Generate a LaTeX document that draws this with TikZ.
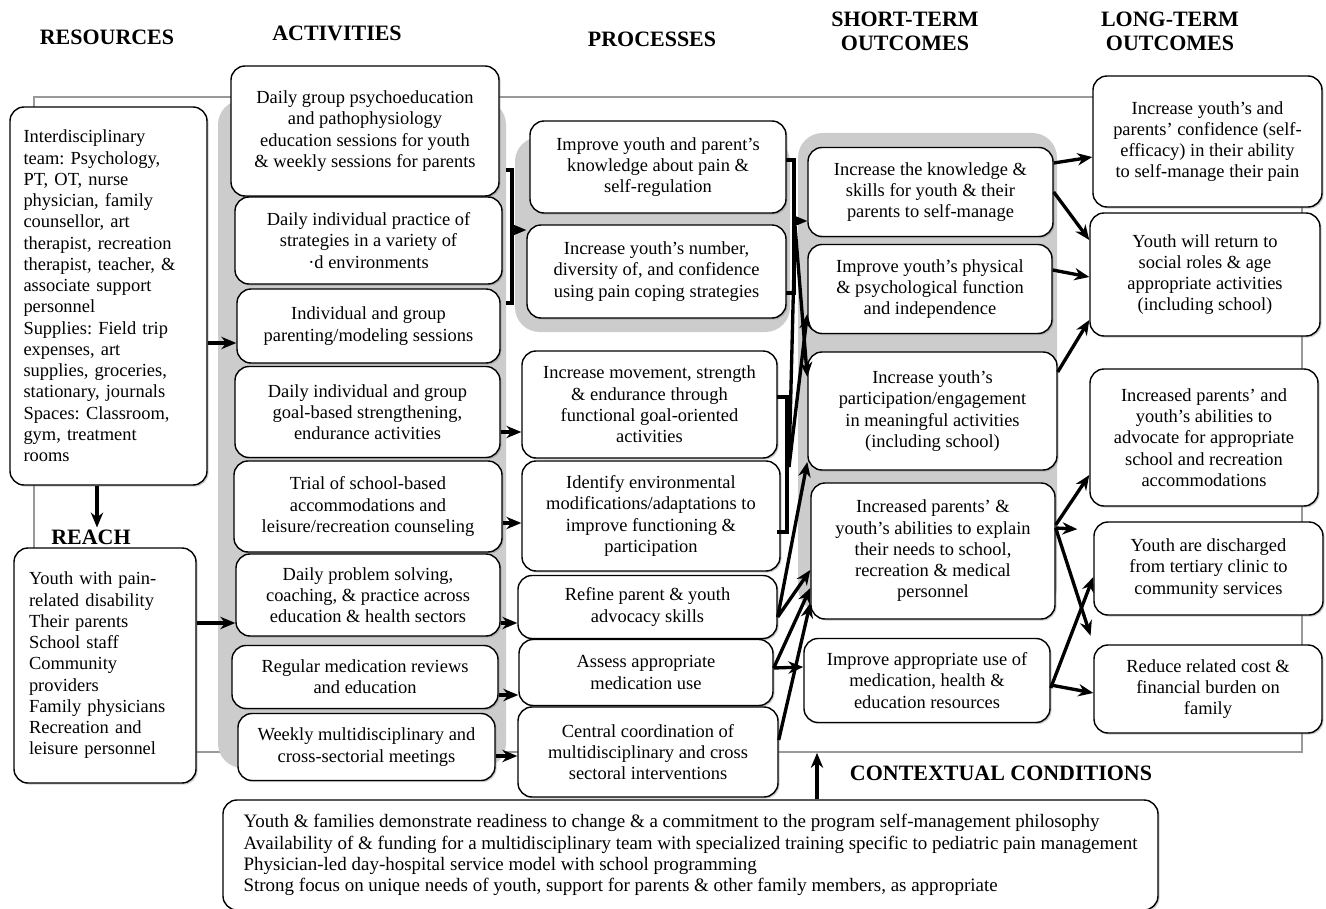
\documentclass[tikz,border=0pt]{standalone}
\usepackage{fontspec}
\setmainfont{Liberation Serif}
\usetikzlibrary{arrows.meta,shadows}
\frenchspacing

\tikzset{
  box/.style={draw, line width=0.8pt, rounded corners=8pt, fill=white, align=center,
    inner sep=1pt, font=\fontsize{10.5}{12.1}\selectfont,
    drop shadow={shadow xshift=0.9pt, shadow yshift=-0.9pt, opacity=0.4}},
  sz/.style 2 args={minimum width=#1*0.02cm, minimum height=#2*0.02cm},
  head/.style={font=\fontsize{12.5}{13.6}\selectfont\bfseries, align=center, inner sep=1pt},
  panel/.style={fill=gray!40, rounded corners=14pt},
  arr/.style={line width=1.9pt, -{Stealth[length=8.5pt,width=7pt]}},
  brk/.style={line width=1.9pt},
}

\begin{document}
\begin{tikzpicture}[x=0.02cm, y=-0.02cm]
  \useasboundingbox (0,0) rectangle (1326,909);

  % headings
  \node[head] (hres) at (107,37) {RESOURCES};
  \node[head] (hact) at (337,33) {ACTIVITIES};
  \node[head] (hproc) at (652,39) {PROCESSES};
  \node[head] (hst) at (905,31) {SHORT-TERM\\OUTCOMES};
  \node[head] (hlt) at (1170,31) {LONG-TERM\\OUTCOMES};
  \node[head] (hreach) at (91,537) {REACH};
  \node[head] (hctx) at (1001,773) {CONTEXTUAL CONDITIONS};

  % frame and grey panels
  \node[draw=black!40, line width=1pt, sz={1268}{655}] (frm) at (668,424.5) {};
  \fill[panel] (218,100) rectangle (506,768);
  \fill[panel] (515,137) rectangle (790,332);
  \fill[panel] (798,133) rectangle (1057,612);

  % resources and reach
  \node[box, sz={197}{378}, text width=3.4cm, align=left] (res) at (108.5,296)
    {Interdisciplinary\\team: Psychology,\\PT, OT, nurse\\physician, family\\counsellor, art\\therapist, recreation\\therapist, teacher, \&\\associate support\\personnel\\Supplies: Field trip\\expenses, art\\supplies, groceries,\\stationary, journals\\Spaces: Classroom,\\gym, treatment\\rooms};
  \node[box, sz={182}{235}, text width=3.04cm, align=left] (reach) at (105,665.5)
    {Youth with pain-\\related disability\\Their parents\\School staff\\Community\\providers\\Family physicians\\Recreation and\\leisure personnel};

  % activities
  \node[box, sz={268}{130}] (act1) at (365,131) {Daily group psychoeducation\\and pathophysiology\\education sessions for youth\\\& weekly sessions for parents};
  \node[box, sz={267}{87}] (act2) at (368.5,240.5) {Daily individual practice of\\strategies in a variety of\\·d environments};
  \node[box, sz={263}{74}] (act3) at (368.5,326) {Individual and group\\parenting/modeling sessions};
  \node[box, sz={265}{91}] (act4) at (367.5,412) {Daily individual and group\\goal-based strengthening,\\endurance activities};
  \node[box, sz={268}{91}] (act5) at (368,506.5) {Trial of school-based\\accommodations and\\leisure/recreation counseling};
  \node[box, sz={264}{82}] (act6) at (368,595) {Daily problem solving,\\coaching, \& practice across\\education \& health sectors};
  \node[box, sz={266}{63}] (act7) at (365,677) {Regular medication reviews\\and education};
  \node[box, sz={257}{67}] (act8) at (366.5,747) {Weekly multidisciplinary and\\cross-sectorial meetings};

  % processes
  \node[box, sz={256}{92}] (proc1) at (658,167) {Improve youth and parent’s\\knowledge about pain \&\\self-regulation};
  \node[box, sz={259}{93}] (proc2) at (656.5,271.5) {Increase youth’s number,\\diversity of, and confidence\\using pain coping strategies};
  \node[box, sz={255}{107}] (proc3) at (649.5,404.5) {Increase movement, strength\\\& endurance through\\functional goal-oriented\\activities};
  \node[box, sz={258}{110}] (proc4) at (651,516) {Identify environmental\\modifications/adaptations to\\improve functioning \&\\participation};
  \node[box, sz={259}{63}] (proc5) at (647.5,607) {Refine parent \& youth\\advocacy skills};
  \node[box, sz={254}{66}] (proc6) at (646,672.5) {Assess appropriate\\medication use};
  \node[box, sz={260}{90}] (proc7) at (648,752) {Central coordination of\\multidisciplinary and cross\\sectoral interventions};

  % short-term outcomes
  \node[box, sz={245}{89}] (st1) at (930.5,192) {Increase the knowledge \&\\skills for youth \& their\\parents to self-manage};
  \node[box, sz={244}{89}] (st2) at (930,289) {Improve youth’s physical\\\& psychological function\\and independence};
  \node[box, sz={249}{118}] (st3) at (932.5,411) {Increase youth’s\\participation/engagement\\in meaningful activities\\(including school)};
  \node[box, sz={244}{136}] (st4) at (933,551) {Increased parents’ \&\\youth’s abilities to explain\\their needs to school,\\recreation \& medical\\personnel};
  \node[box, sz={246}{84}] (st5) at (927,680.5) {Improve appropriate use of\\medication, health \&\\education resources};

  % long-term outcomes
  \node[box, sz={229}{131}] (lt1) at (1207.5,141.5) {Increase youth’s and\\parents’ confidence (self-\\efficacy) in their ability\\to self-manage their pain};
  \node[box, sz={230}{123}] (lt2) at (1205,274.5) {Youth will return to\\social roles \& age\\appropriate activities\\(including school)};
  \node[box, sz={228}{137}] (lt3) at (1204,437.5) {Increased parents’ and\\youth’s abilities to\\advocate for appropriate\\school and recreation\\accommodations};
  \node[box, sz={229}{93}] (lt4) at (1208.5,568.5) {Youth are discharged\\from tertiary clinic to\\community services};
  \node[box, sz={228}{88}] (lt5) at (1208,689) {Reduce related cost \&\\financial burden on\\family};

  % contextual conditions
  \node[box, sz={935}{110}, align=left, font=\fontsize{10.8}{12.1}\selectfont] (ctx) at (690.5,855)
    {Youth \& families demonstrate readiness to change \& a commitment to the program self-management philosophy\\Availability of \& funding for a multidisciplinary team with specialized training specific to pediatric pain management\\Physician-led day-hospital service model with school programming\\Strong focus on unique needs of youth, support for parents \& other family members, as appropriate};

  % resources and reach into activities
  \draw[arr] (res.south -| 97,0) -- (hreach.north -| 97,0);
  \draw[arr] (res.east |- 0,343) -- (act3.west |- 0,343);
  \draw[arr] (reach.east |- 0,623) -- (act6.west |- 0,623);

  % brackets
  \coordinate (b1) at (512,230);
  \coordinate (b2) at (795,221);
  \coordinate (b2j) at (795,226);
  \coordinate (b3) at (789,467);
  \draw[brk] (506,170) -- (512,170) -- (512,303) -- (506,303);
  \draw[brk] (786,160) -- (794,160) -- (794,293) -- (786,293);
  \draw[brk] (777,397) -- (787,397) -- (787,532) -- (777,532);

  % activities to processes
  \draw[arr] (b1) -- (b1 -| proc2.west);
  \draw[arr] (act4.east |- 0,432) -- (proc3.west |- 0,432);
  \draw[arr] (act5.east |- 0,523) -- (proc4.west |- 0,523);
  \draw[arr] (act6.east |- 0,623) -- (proc5.west |- 0,623);
  \draw[arr] (act7.east |- 0,695) -- (proc6.west |- 0,695);
  \draw[arr] (act8.east |- 0,756) -- (proc7.west |- 0,756);

  % processes to short-term outcomes
  \draw[arr] (b2) -- (b2 -| st1.west);
  \draw[brk] (b3) -- (b2j);
  \draw[arr] (b2j) -- (st3.west |- 0,377);
  \draw[arr] (b3) -- (st2.west |- 0,314);
  \draw[arr] (proc5.east |- 0,617) -- (st3.west |- 0,462);
  \draw[arr] (proc5.east |- 0,617) -- (st4.west |- 0,570);
  \draw[arr] (proc6.east |- 0,668) -- (st4.west |- 0,588);
  \draw[arr] (proc6.east |- 0,668) -- (st5.west |- 0,667);
  \draw[arr] (proc7.east |- 0,740) -- (st4.west |- 0,603);

  % short-term to long-term outcomes
  \draw[arr] (st1.east |- 0,163) -- (lt1.west |- 0,157);
  \draw[arr] (st1.east |- 0,192) -- (lt2.west |- 0,240);
  \draw[arr] (st2.east |- 0,270) -- (lt2.west |- 0,277);
  \draw[arr] (st3.east |- 0,372) -- (lt2.west |- 0,320);
  \draw[arr] (st4.east |- 0,525) -- (lt3.west |- 0,475);
  \draw[arr, shorten >=0.32cm] (st4.east |- 0,528) -- (lt4.west |- 0,530);
  \draw[arr, shorten >=0.18cm] (st4.east |- 0,528) -- (lt5.north west);
  \draw[arr] (st5.east |- 0,688) -- (lt4.west |- 0,577);
  \draw[arr] (st5.east |- 0,685) -- (lt5.west |- 0,693);

  % contextual conditions
  \draw[arr] (ctx.north -| 817,0) -- (frm.south -| 817,0);
\end{tikzpicture}
\end{document}
